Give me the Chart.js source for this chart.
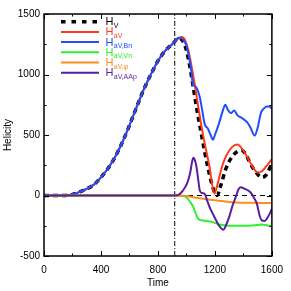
<!DOCTYPE html>
<html>
<head>
<meta charset="utf-8">
<script src="https://cdn.jsdelivr.net/npm/chart.js@4"></script>
<style>
  body { margin: 0; background: #fff; }
  canvas { display: block; }
</style>
</head>
<body>
<canvas id="myChart" width="291" height="291"></canvas>
<script>
// rise phase is shared by H_V, H_aV and H_aV,Bn
let riseT = [0, 100, 150, 200, 250, 300, 350, 400, 450, 500, 550, 600, 650, 700, 750, 800, 850, 900];
let riseV = [0, 0, 1, 8, 30, 55, 90, 150, 225, 320, 440, 580, 730, 875, 1000, 1112, 1195, 1250];

let hvT = [950, 980, 1000, 1025, 1050, 1075, 1100, 1125, 1150, 1175, 1200, 1215, 1240, 1280, 1320, 1360, 1390, 1420, 1460, 1500, 1530, 1560, 1590, 1600];
let hvV = [1300, 1265, 1200, 1060, 880, 700, 540, 380, 235, 110, 20, 0, 80, 230, 320, 365, 372, 330, 240, 175, 150, 170, 240, 265];

let haT = [950, 968, 990, 1014, 1050, 1085, 1120, 1160, 1197, 1220, 1250, 1280, 1320, 1358, 1400, 1440, 1480, 1500, 1530, 1560, 1600];
let haV = [1303, 1310, 1285, 1198, 975, 720, 480, 250, 15, 100, 240, 330, 400, 421, 370, 290, 210, 190, 200, 240, 300];

let bnT = [946, 980, 1003, 1025, 1037, 1044, 1060, 1075, 1094, 1110, 1128, 1151, 1170, 1186, 1200, 1230, 1255, 1273, 1290, 1312, 1335, 1360, 1387, 1426, 1450, 1479, 1500, 1525, 1545, 1564, 1580, 1600];
let bnV = [1303, 1285, 1226, 1100, 1006, 923, 905, 880, 812, 710, 592, 551, 500, 460, 500, 600, 700, 750, 710, 680, 702, 660, 642, 606, 560, 496, 560, 689, 720, 736, 735, 717];

let vnT = [0, 930, 980, 1003, 1030, 1049, 1065, 1083, 1117, 1150, 1186, 1230, 1277, 1350, 1415, 1480, 1530, 1570, 1600];
let vnV = [0, 0, -5, -19, -60, -96, -150, -193, -207, -212, -220, -240, -248, -250, -251, -245, -240, -248, -253];

let phiT = [0, 930, 1000, 1050, 1117, 1200, 1323, 1450, 1600];
let phiV = [0, 0, -5, -15, -27, -40, -55, -60, -63];

let aapT = [0, 920, 950, 975, 1003, 1025, 1040, 1049, 1060, 1071, 1083, 1094, 1110, 1128, 1145, 1163, 1185, 1209, 1235, 1259, 1280, 1300, 1325, 1346, 1365, 1380, 1410, 1449, 1475, 1495, 1515, 1530, 1550, 1564, 1585, 1600];
let aapV = [0, 0, 10, 40, 96, 180, 280, 311, 290, 234, 130, 41, 20, 14, -40, -97, -150, -207, -260, -284, -240, -179, -80, -14, 50, 69, 55, 27, -20, -69, -170, -207, -210, -193, -150, -110];

let markTime = 918;
let xTicks = [0, 400, 800, 1200, 1600];
let yTicks = [-500, 0, 500, 1000, 1500];

let legendSub = ['V', 'aV', 'aV,Bn', 'aV,Vn', 'aV,\u03c6', 'aV,AAp'];
let colors = ['#000000', '#ff3a1a', '#1f4dff', '#2ef02e', '#ff8c1f', '#5a1e9e'];

function pts(t, v) {
  return t.map((x, i) => ({ x: x, y: v[i] }));
}
function withRise(t, v) {
  return pts(riseT, riseV).concat(pts(t, v));
}

Chart.defaults.font.family = '"Liberation Sans", Arial, sans-serif';
Chart.defaults.color = '#000';

let framePlugin = {
  id: 'frame',
  afterDraw(chart) {
    let c = chart.ctx, a = chart.chartArea;
    let xs = chart.scales.x, ys = chart.scales.y;
    c.save();
    c.strokeStyle = '#000';
    c.lineWidth = 1.5;
    c.strokeRect(a.left, a.top, a.right - a.left, a.bottom - a.top);
    c.lineWidth = 1;
    c.beginPath();
    for (let t = 0; t <= 1600; t += 200) {
      let L = (t % 400 === 0) ? 5 : 2.5;
      let px = Math.round(xs.getPixelForValue(t)) + 0.5;
      c.moveTo(px, a.bottom); c.lineTo(px, a.bottom - L);
      c.moveTo(px, a.top); c.lineTo(px, a.top + L);
    }
    for (let v = -500; v <= 1500; v += 250) {
      let L = (v % 500 === 0) ? 5 : 2.5;
      let py = Math.round(ys.getPixelForValue(v)) + 0.5;
      c.moveTo(a.left, py); c.lineTo(a.left + L, py);
      c.moveTo(a.right, py); c.lineTo(a.right - L, py);
    }
    c.stroke();

    // legend with subscripts
    for (let i = 0; i < legendSub.length; i++) {
      let y = a.top + 7.7 + i * 10.2;
      c.strokeStyle = colors[i];
      c.lineWidth = i === 0 ? 3.5 : 2;
      c.setLineDash(i === 0 ? [4.5, 6] : []);
      c.beginPath();
      c.moveTo(61, y); c.lineTo(99, y);
      c.stroke();
      c.setLineDash([]);
      c.fillStyle = colors[i];
      c.textBaseline = 'alphabetic';
      c.font = '11px "Liberation Sans", Arial, sans-serif';
      c.fillText('H', 105.5, y + 3.5);
      let w = c.measureText('H').width;
      c.font = '7px "Liberation Sans", Arial, sans-serif';
      c.fillText(legendSub[i], 105.5 + w + 0.3, y + 6);
    }
    c.restore();
  }
};

let ctx = document.getElementById('myChart');
let myChart = new Chart(ctx, {
  type: 'line',
  data: {
    datasets: [
      { data: pts([0, 1600], [0, 0]), borderColor: '#000', borderWidth: 1, borderDash: [5, 4], order: 8 },
      { data: pts([markTime, markTime], [-500, 1500]), borderColor: '#000', borderWidth: 1, borderDash: [5, 2, 1, 2], order: 7 },
      { data: withRise(hvT, hvV), borderColor: colors[0], borderWidth: 3.5, borderDash: [5, 4], order: 6 },
      { data: withRise(haT, haV), borderColor: colors[1], borderWidth: 2, order: 5 },
      { data: withRise(bnT, bnV), borderColor: colors[2], borderWidth: 2, order: 4 },
      { data: pts(vnT, vnV), borderColor: colors[3], borderWidth: 2, order: 3 },
      { data: pts(phiT, phiV), borderColor: colors[4], borderWidth: 2, order: 2 },
      { data: pts(aapT, aapV), borderColor: colors[5], borderWidth: 2, order: 1 }
    ]
  },
  options: {
    responsive: false,
    animation: false,
    elements: { point: { radius: 0 }, line: { cubicInterpolationMode: 'monotone', fill: false } },
    layout: { padding: { top: 14, right: 14, left: 0, bottom: 0 } },
    plugins: { legend: { display: false }, tooltip: { enabled: false } },
    scales: {
      x: {
        type: 'linear', min: 0, max: 1600,
        afterFit: s => { s.height = 35; },
        afterBuildTicks: s => { s.ticks = xTicks.map(v => ({ value: v })); },
        grid: { display: false, drawTicks: false },
        border: { display: false },
        ticks: { font: { size: 10 }, padding: 8, maxRotation: 0, callback: v => String(v) },
        title: { display: true, text: 'Time', font: { size: 10 }, padding: { top: 0, bottom: 2 } }
      },
      y: {
        type: 'linear', min: -500, max: 1500,
        afterFit: s => { s.width = 44; },
        afterBuildTicks: s => { s.ticks = yTicks.map(v => ({ value: v })); },
        grid: { display: false, drawTicks: false },
        border: { display: false },
        ticks: { font: { size: 10 }, padding: 4, callback: v => String(v) },
        title: { display: true, text: 'Helicity', font: { size: 10 }, padding: { top: 2, bottom: 0 } }
      }
    }
  },
  plugins: [framePlugin]
});
</script>
</body>
</html>
